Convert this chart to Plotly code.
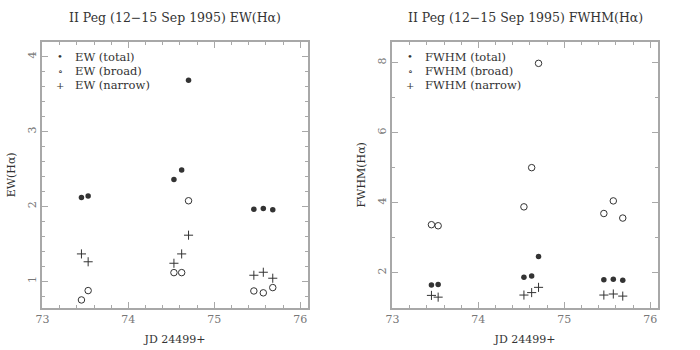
import plotly.graph_objects as go

# JD 24499+ (12-15 Sep 1995)
jd = [73.454, 73.532, 74.53, 74.62, 74.70, 75.46, 75.57, 75.68]

ew_total = [2.12, 2.14, 2.36, 2.485, 3.686, 1.96, 1.97, 1.955]
ew_broad = [0.75, 0.875, 1.115, 1.115, 2.075, 0.87, 0.845, 0.915]
ew_narrow = [1.365, 1.26, 1.24, 1.365, 1.615, 1.08, 1.12, 1.04]

fwhm_total = [1.65, 1.66, 1.87, 1.905, 2.46, 1.80, 1.81, 1.78]
fwhm_broad = [3.37, 3.34, 3.88, 5.0, 7.98, 3.69, 4.05, 3.56]
fwhm_narrow = [1.35, 1.30, 1.36, 1.43, 1.58, 1.36, 1.39, 1.33]

legend_syms = ['\u2022', '\u2218', '+']
legend_tags = ['(total)', '(broad)', '(narrow)']

ink = '#333333'
frame = '#a8a8a8'
fnt = 'DejaVu Serif'

fig = go.Figure()

def add_set(name, total, broad, narrow, xa, ya):
    fig.add_trace(go.Scatter(x=jd, y=total, mode='markers', name=name + ' (total)',
                             xaxis=xa, yaxis=ya,
                             marker=dict(symbol='circle', size=5.5, color=ink)))
    fig.add_trace(go.Scatter(x=jd, y=broad, mode='markers', name=name + ' (broad)',
                             xaxis=xa, yaxis=ya,
                             marker=dict(symbol='circle-open', size=6.5, color=ink,
                                         line=dict(width=1, color=ink))))
    fig.add_trace(go.Scatter(x=jd, y=narrow, mode='markers', name=name + ' (narrow)',
                             xaxis=xa, yaxis=ya,
                             marker=dict(symbol='cross-thin-open', size=6.5, color=ink,
                                         line=dict(width=1, color=ink))))

add_set('EW', ew_total, ew_broad, ew_narrow, 'x', 'y')
add_set('FWHM', fwhm_total, fwhm_broad, fwhm_narrow, 'x2', 'y2')

def xax(domain, anchor):
    return dict(domain=domain, anchor=anchor, range=[72.995, 76.09], dtick=1,
                showgrid=False, zeroline=False, showline=True, linecolor=frame,
                linewidth=2, mirror='ticks', ticks='inside', ticklen=6,
                tickcolor=frame, tickwidth=1, automargin=False,
                minor=dict(dtick=0.2, ticks='inside', ticklen=3, tickcolor=frame),
                tickfont=dict(family=fnt, size=11, color='#777777'),
                title=dict(text='JD 24499+', standoff=10,
                           font=dict(family=fnt, size=11, color=ink)))

def yax(domain, anchor, rng, dt, mdt, label):
    return dict(domain=domain, anchor=anchor, range=rng, dtick=dt,
                showgrid=False, zeroline=False, showline=True, linecolor=frame,
                linewidth=2, mirror='ticks', ticks='inside', ticklen=6,
                tickcolor=frame, tickwidth=1, tickangle=-90, automargin=False,
                minor=dict(dtick=mdt, ticks='inside', ticklen=3, tickcolor=frame),
                tickfont=dict(family=fnt, size=11, color='#777777'),
                title=dict(text=label, standoff=8,
                           font=dict(family=fnt, size=11, color=ink)))

annots = [
    dict(text='II Peg (12\u221215 Sep 1995) EW(H\u03b1)', x=175),
    dict(text='II Peg (12\u221215 Sep 1995) FWHM(H\u03b1)', x=525),
]
for a in annots:
    a.update(x=a['x'] / 700, y=1 - 17 / 350, xref='paper', yref='paper',
             xanchor='center', yanchor='middle', showarrow=False,
             font=dict(family=fnt, size=12.5, color=ink))

# legend entries (symbol + label), written inside the top-left of each panel
for x0, name in [(60, 'EW'), (410, 'FWHM')]:
    for i, (s, t) in enumerate(zip(legend_syms, legend_tags)):
        yy = 1 - (57 + 14 * i) / 350
        annots.append(dict(text=s, x=x0 / 700, y=yy, xref='paper', yref='paper',
                           xanchor='center', yanchor='middle', showarrow=False,
                           font=dict(family=fnt, size=10, color=ink)))
        annots.append(dict(text=name + ' ' + t, x=(x0 + 13) / 700, y=yy,
                           xref='paper', yref='paper', xanchor='left',
                           yanchor='middle', showarrow=False,
                           font=dict(family=fnt, size=11.5, color=ink)))

fig.update_layout(
    width=700, height=350,
    margin=dict(l=0, r=0, t=0, b=0),
    paper_bgcolor='white', plot_bgcolor='white',
    showlegend=False,
    xaxis=xax([0.06, 0.44], 'y'),
    yaxis=yax([0.121, 0.88], 'x', [0.647, 4.196], 1, 0.2, 'EW(H\u03b1)'),
    xaxis2=xax([0.56, 0.94], 'y2'),
    yaxis2=yax([0.121, 0.88], 'x2', [1.0, 8.59], 2, 1, 'FWHM(H\u03b1)'),
    annotations=annots,
)

# drop the page's default body margin so the figure sits at the window corner
fig.write_html("out.html", config={'displayModeBar': False},
               post_script="document.body.style.margin='0';")
